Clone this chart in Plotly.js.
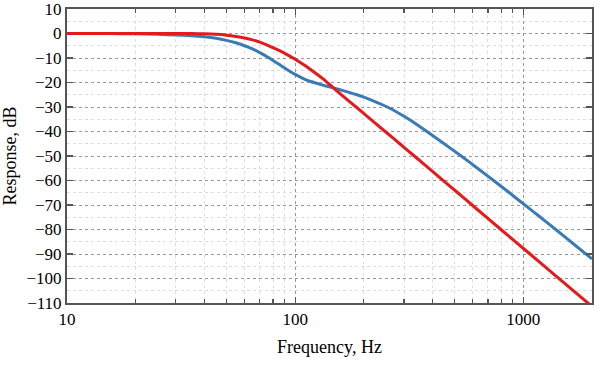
<!DOCTYPE html>
<html>
<head>
<meta charset="utf-8">
<script src="https://cdn.plot.ly/plotly-3.0.1.min.js"></script>
<style>html,body{margin:0;padding:0;background:#fff;}#chart{width:600px;height:370px;}</style>
</head>
<body>
<div id="chart"></div>
<script>
const blueFreq = [10, 15, 20, 25, 30, 35, 40, 45, 50, 55, 60, 65, 70, 75, 80, 85, 90, 95, 100, 108, 116, 125, 135, 147, 165, 185, 200, 225, 256, 300, 340, 378, 450, 538, 640, 729, 850, 1000, 1200, 1400, 1650, 2000];
const blueResp = [0, -0.05, -0.15, -0.35, -0.6, -0.9, -1.35, -1.95, -2.8, -3.8, -5.0, -6.3, -7.8, -9.4, -11.0, -12.6, -14.1, -15.5, -16.7, -18.3, -19.5, -20.4, -21.3, -22.2, -23.5, -24.9, -26.0, -27.9, -30.2, -33.8, -37.0, -40.0, -45.0, -50.2, -55.5, -59.5, -64.3, -69.5, -75.3, -80.3, -85.7, -92.0];
const redFreq = [10, 20, 30, 35, 40, 45, 50, 55, 60, 65, 70, 75, 80, 90, 100, 110, 120, 135, 147, 165, 185, 210, 248, 290, 333, 400, 516, 600, 800, 1070, 1400, 2000];
const redResp = [0, 0, 0, -0.05, -0.15, -0.35, -0.7, -1.2, -1.8, -2.6, -3.5, -4.6, -5.8, -8.1, -10.5, -13.0, -15.5, -19.1, -22.2, -26.2, -30.0, -34.3, -40.0, -45.3, -50.0, -56.3, -65.0, -70.2, -80.1, -90.0, -99.2, -111.4];
const xTickVals = [10, 100, 1000];
const xTickText = ['10', '100', '1000'];
const yTicks = [10, 0, -10, -20, -30, -40, -50, -60, -70, -80, -90, -100, -110];

const fam = 'Liberation Serif, Times New Roman, serif';
const tickFont = {family: fam, size: 17, color: '#000'};
const titleFont = {family: fam, size: 18, color: '#000'};

const traces = [
  {x: blueFreq, y: blueResp, type: 'scatter', mode: 'lines', line: {color: '#3a7bb7', width: 3, shape: 'spline', smoothing: 0.6}, hoverinfo: 'skip'},
  {x: redFreq, y: redResp, type: 'scatter', mode: 'lines', line: {color: '#e41a1c', width: 3, shape: 'spline', smoothing: 0.6}, hoverinfo: 'skip'}
];

const layout = {
  width: 600, height: 370,
  margin: {l: 67, r: 8, t: 9, b: 67},
  paper_bgcolor: '#fff', plot_bgcolor: '#fff',
  showlegend: false,
  font: tickFont,
  xaxis: {
    type: 'log', range: [1, Math.log10(2000)],
    dtick: 1, tickvals: xTickVals, ticktext: xTickText,
    ticks: 'inside', ticklen: 6, tickwidth: 1.2, tickcolor: '#555',
    showline: true, linecolor: '#555', linewidth: 2, mirror: 'allticks',
    showgrid: true, gridcolor: '#999', griddash: 'dot', gridwidth: 1,
    minor: {ticks: 'inside', ticklen: 4, tickcolor: '#555', dtick: 'D1', showgrid: true, gridcolor: '#ddd', griddash: 'dot', gridwidth: 1},
    zeroline: false,
    ticklabeloverflow: 'allow',
    tickfont: tickFont,
    title: {text: 'Frequency, Hz', font: titleFont, standoff: 12}
  },
  yaxis: {
    range: [-110, 10.0001], tickvals: yTicks,
    ticks: 'inside', ticklen: 6, tickwidth: 1.2, tickcolor: '#555',
    showline: true, linecolor: '#555', linewidth: 2, mirror: 'allticks',
    showgrid: true, gridcolor: '#999', griddash: 'dot', gridwidth: 1,
    minor: {dtick: 5, ticks: '', showgrid: true, gridcolor: '#ddd', griddash: 'dot', gridwidth: 1},
    zeroline: false,
    ticklabeloverflow: 'allow',
    tickfont: tickFont,
    title: {text: 'Response, dB', font: titleFont, standoff: 6}
  }
};

Plotly.newPlot('chart', traces, layout, {staticPlot: true, displayModeBar: false});
</script>
</body>
</html>
